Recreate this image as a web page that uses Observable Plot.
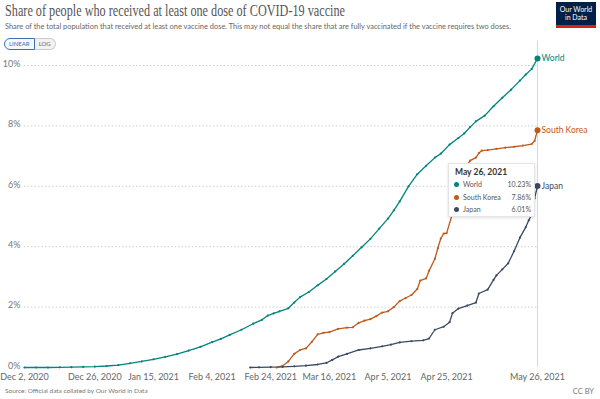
<!DOCTYPE html>
<html><head><meta charset="utf-8">
<script src="https://cdn.jsdelivr.net/npm/d3@7"></script>
<script src="https://cdn.jsdelivr.net/npm/@observablehq/plot@0.6"></script>
<style>
body{margin:0;background:#fff;font-family:Lato,"Noto Sans",sans-serif;}
#wrap{position:relative;width:600px;height:399px;overflow:hidden;background:#fff;}
#title{position:absolute;left:5px;top:1px;font-family:"Liberation Serif","DejaVu Serif",serif;font-size:17px;color:#555;white-space:nowrap;transform-origin:0 0;}
#sub{position:absolute;left:5px;top:22px;font-size:8px;color:#666;white-space:nowrap;}
#btns{position:absolute;left:4px;top:38px;display:flex;font-size:6px;}
#btns div{padding:1px 4px;border:1px solid #ccc;color:#666;height:8px;line-height:8px;}
#btns .on{border-color:#3b6fb6;color:#3b6fb6;border-radius:6px 0 0 6px;background:#f4f8fc;}
#btns .off{border-left:none;border-radius:0 6px 6px 0;background:#f2f2f2;}
#logo{position:absolute;left:556px;top:2px;width:40px;background:#002147;border-bottom:3px solid #ce261e;color:#fff;font-size:7px;line-height:8px;text-align:center;padding-top:3px;box-sizing:border-box;height:26px;}
#chart{position:absolute;left:0;top:50px;}
#tip{position:absolute;left:448px;top:163px;width:87px;height:54px;background:#fff;border:1px solid #e4e4e4;box-shadow:0 1px 3px rgba(0,0,0,0.12);box-sizing:border-box;font-size:7px;color:#555;}
#tip .h{position:absolute;left:6px;top:3px;font-size:8.5px;font-weight:bold;color:#333;}
#tip .r{position:absolute;left:5px;right:3px;height:10px;line-height:10px;}
#tip .d{display:inline-block;width:5px;height:5px;border-radius:50%;margin-right:4px;vertical-align:0px;}
#tip .v{position:absolute;right:0;top:0;}
#src{position:absolute;left:5px;top:387px;font-size:7.5px;color:#777;white-space:nowrap;}
#cc{position:absolute;right:6px;top:387px;font-size:7.5px;color:#777;}
</style></head><body>
<div id="wrap">
<div id="title">Share of people who received at least one dose of COVID-19 vaccine</div>
<div id="sub">Share of the total population that received at least one vaccine dose. This may not equal the share that are fully vaccinated if the vaccine requires two doses.</div>
<div id="btns"><div class="on">LINEAR</div><div class="off">LOG</div></div>
<div id="logo">Our World<br>in Data</div>
<div id="chart"></div>
<div id="tip"></div>
<div id="src">Source: Official data collated by Our World in Data</div>
<div id="cc">CC BY</div>
</div>
<script>
const startDate = "2020-12-02";
const seriesNames = ["World", "South Korea", "Japan"];
const seriesColors = ["#00847e", "#be5a1c", "#3a4a63"];

const worldDays   = [0,4,8,12,16,20,24,28,32,36,40,44,48,52,56,60,64,67,70,74,78,81,83,85,87,90,92,94,97,100,103,106,109,112,115,118,121,124,126,128,131,134,137,140,142,145,148,150,152,154,157,160,163,166,169,171,173,175];
const worldValues = [0,0,0,0.005,0.01,0.02,0.03,0.05,0.08,0.14,0.2,0.27,0.35,0.44,0.56,0.68,0.84,0.95,1.08,1.25,1.45,1.58,1.72,1.79,1.86,1.96,2.15,2.33,2.5,2.72,2.93,3.18,3.43,3.7,3.98,4.26,4.6,4.93,5.2,5.5,6.0,6.4,6.68,6.95,7.08,7.38,7.6,7.75,7.96,8.15,8.34,8.65,8.93,9.2,9.5,9.7,9.88,10.23];

const koreaDays   = [86,88,90,92,94,96,98,100,102,104,107,110,112,114,116,118,120,122,124,126,128,130,132,134,135,137,138,140,141,142,143,144,146,148,150,152,154,155,156,158,161,164,167,170,173,174,175];
const koreaValues = [0,0.05,0.2,0.45,0.58,0.63,0.85,1.1,1.15,1.17,1.28,1.32,1.33,1.48,1.55,1.6,1.7,1.82,1.86,2.0,2.2,2.3,2.4,2.6,2.88,2.95,3.2,3.6,3.95,4.27,4.43,4.45,5.1,5.85,6.55,6.85,6.95,7.1,7.18,7.2,7.24,7.28,7.31,7.35,7.4,7.5,7.86];

const japanDays   = [77,80,84,88,92,96,100,103,105,107,110,114,118,122,125,128,132,136,138,140,143,145,146,148,151,154,155,158,160,161,163,165,167,169,171,172,173,174,175];
const japanValues = [0,0.005,0.01,0.02,0.04,0.06,0.1,0.15,0.25,0.36,0.45,0.58,0.63,0.7,0.76,0.83,0.87,0.9,0.96,1.25,1.35,1.5,1.8,1.95,2.05,2.15,2.45,2.58,2.9,3.05,3.25,3.45,3.85,4.3,4.65,4.87,5.05,5.6,6.01];

const xTickDates = ["2020-12-02","2020-12-26","2021-01-15","2021-02-04","2021-02-24","2021-03-16","2021-04-05","2021-04-25","2021-05-26"];
const yTicks = [0,2,4,6,8,10];
const tooltipDate = "2021-05-26";

const t0 = new Date(startDate);
function rows(name, days, vals){ return days.map((d,i)=>({series:name, date:d3.utcDay.offset(t0,d), value:vals[i]})); }
const data = [
  ...rows("World", worldDays, worldValues),
  ...rows("South Korea", koreaDays, koreaValues),
  ...rows("Japan", japanDays, japanValues)
];
const last = seriesNames.map(n => { const s = data.filter(d=>d.series===n); return s[s.length-1]; });
const fmt = d3.utcFormat("%b %-d, %Y");

const chart = Plot.plot({
  width: 600, height: 340,
  marginLeft: 24, marginRight: 63, marginTop: 15, marginBottom: 23,
  style: {fontFamily: "Lato, sans-serif", fontSize: "9px", color: "#666", background: "transparent", overflow: "visible"},
  x: {type: "utc", domain: [t0, new Date(tooltipDate)]},
  y: {domain: [0, 10]},
  color: {domain: seriesNames, range: seriesColors},
  marks: [
    Plot.gridY(yTicks.slice(1), {stroke: "#cfcfcf", strokeOpacity: 1, strokeDasharray: "1.5,2"}),
    Plot.ruleX([new Date(tooltipDate)], {y1: 0, y2: 10.8, stroke: "#d8d8d8"}),
    Plot.axisY(yTicks, {tickSize: 0, tickPadding: 4, tickFormat: d => d + "%", label: null, fill: "#777", fontSize: 9, dy: -1.5}),
    Plot.axisX(xTickDates.map(s => new Date(s)), {tickSize: 0, tickPadding: 6, tickFormat: fmt, label: null, fill: "#666", fontSize: 9}),
    Plot.line(data, {x: "date", y: "value", z: "series", stroke: "series", strokeWidth: 1.3}),
    Plot.dot(data, {x: "date", y: "value", fill: "series", r: 1.1}),
    Plot.dot(last, {x: "date", y: "value", fill: "series", r: 3}),
    Plot.text(last, {x: "date", y: "value", text: "series", fill: "series", textAnchor: "start", dx: 4, fontSize: 8.5})
  ]
});
document.getElementById("chart").appendChild(chart);

function fitWidth(id, target, useScale){
  const el = document.getElementById(id);
  const w = el.getBoundingClientRect().width;
  if (useScale) el.style.transform = `scaleX(${target / w})`;
  else el.style.fontSize = (parseFloat(getComputedStyle(el).fontSize) * target / w) + "px";
}
fitWidth("title", 340, true);
fitWidth("sub", 507, false);
fitWidth("src", 143, false);

const tip = document.getElementById("tip");
let html = `<div class="h">${fmt(new Date(tooltipDate))}</div>`;
last.forEach((d,i)=>{
  html += `<div class="r" style="top:${15+i*12.5}px"><span class="d" style="background:${seriesColors[i]}"></span>${d.series}<span class="v">${d.value.toFixed(2)}%</span></div>`;
});
tip.innerHTML = html;
</script>
</body></html>
